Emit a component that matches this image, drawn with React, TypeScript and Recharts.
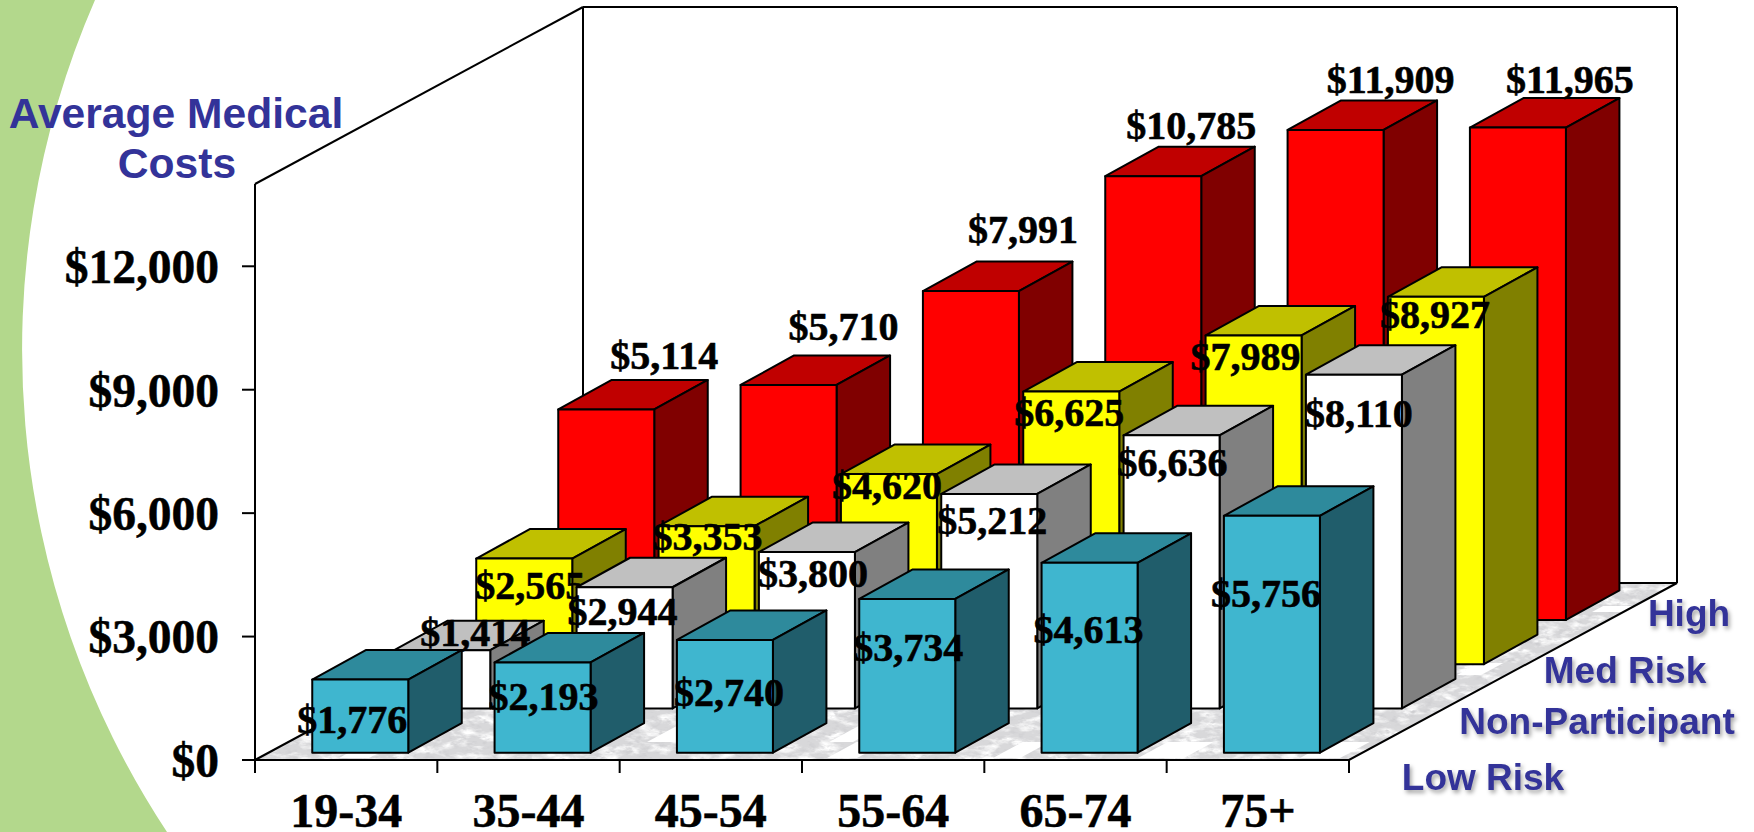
import { BarChart, Bar, XAxis, YAxis } from "recharts";

const WIDTH = 1754;
const HEIGHT = 832;

const AGE_GROUPS = ["19-34", "35-44", "45-54", "55-64", "65-74", "75+"];
const COST_TICKS = [0, 3000, 6000, 9000, 12000];

const LOW_RISK = [1776, 2193, 2740, 3734, 4613, 5756];
const NON_PARTICIPANT = [1414, 2944, 3800, 5212, 6636, 8110];
const MED_RISK = [2565, 3353, 4620, 6625, 7989, 8927];
const HIGH_RISK = [5114, 5710, 7991, 10785, 11909, 11965];

// value labels are hand placed per bar, relative to the top of the front face
const LOW_NUDGE = [[-8, 40], [1, 35], [4, 53], [1, 49], [-1, 67], [-6, 78]];
const NON_NUDGE = [[33, -17], [-2, 25], [6, 22], [3, 27], [1, 28], [5, 39]];
const MED_NUDGE = [[6, 27], [1, 11], [-2, 12], [-2, 21], [-8, 22], [-1, 18]];
const HIGH_NUDGE = [[58, -53], [55, -58], [52, -61], [38, -50], [55, -50], [52, -48]];

// white gaps in the floor texture: left edge at the lower side, top, bottom, width
const FLOOR_GAPS = [
  [339, 752, 758, 30],
  [647, 712, 742, 30],
  [829, 712, 742, 24],
  [827, 742, 758, 30],
  [993, 742, 758, 27],
  [1138, 742, 758, 46],
  [1300, 742, 758, 40],
  [1457, 663, 675, 24],
  [1592, 606, 612, 30],
];

const chartData = AGE_GROUPS.map((age, i) => ({
  age,
  low: LOW_RISK[i],
  non: NON_PARTICIPANT[i],
  med: MED_RISK[i],
  high: HIGH_RISK[i],
}));

// plot frame and the oblique projection used for the fake 3D
const LEFT = 255;
const RIGHT = 1349;
const TOP = 184;
const BASE = 760;
const DEPTH_X = 328;
const DEPTH_Y = 177;
const SLOT_X = DEPTH_X / 4;
const SLOT_Y = DEPTH_Y / 4;
const BOX_X = 53.5;
const BOX_Y = 29.5;
const BAR_WIDTH = 96;
const INSET_X = (SLOT_X - BOX_X) / 2;
const INSET_Y = (SLOT_Y - BOX_Y) / 2;

const SERIF = "'Liberation Serif', 'Times New Roman', serif";
const SANS = "'Liberation Sans', Arial, sans-serif";
const BLUE = "#333399";

const usd = (v: number) => `$${v.toLocaleString("en-US")}`;

const Box3D = (colors: string[], slot: number, nudge: number[][]) => (props: any) => {
  const { x, y, width, height, index, value } = props;
  const dx = INSET_X + slot * SLOT_X;
  const dy = INSET_Y + slot * SLOT_Y;
  const l = x + dx;
  const r = l + width;
  const t = y - dy;
  const b = t + height;
  const [nx, ny] = nudge[index];
  const v = Array.isArray(value) ? value[1] : value;
  return (
    <g stroke="#000" strokeWidth={2} strokeLinejoin="round">
      <polygon points={`${l},${t} ${r},${t} ${r + BOX_X},${t - BOX_Y} ${l + BOX_X},${t - BOX_Y}`} fill={colors[1]} />
      <polygon points={`${r},${t} ${r + BOX_X},${t - BOX_Y} ${r + BOX_X},${b - BOX_Y} ${r},${b}`} fill={colors[2]} />
      <rect x={l} y={t} width={width} height={height} fill={colors[0]} />
      <text
        x={l + width / 2 + nx}
        y={t + ny + 13}
        textAnchor="middle"
        stroke="#000"
        strokeWidth={0.6}
        fill="#000"
        fontFamily={SERIF}
        fontWeight="bold"
        fontSize={40}
      >
        {usd(v)}
      </text>
    </g>
  );
};

const AgeTick = (props: any) => {
  const { x, payload, index } = props;
  const half = (RIGHT - LEFT) / AGE_GROUPS.length / 2;
  return (
    <g>
      <line x1={x - half} x2={x - half} y1={BASE} y2={BASE + 13} stroke="#000" strokeWidth={2} />
      {index === AGE_GROUPS.length - 1 && (
        <line x1={x + half} x2={x + half} y1={BASE} y2={BASE + 13} stroke="#000" strokeWidth={2} />
      )}
      <text
        x={x}
        y={827}
        textAnchor="middle"
        fontFamily={SERIF}
        fontWeight="bold"
        fontSize={48}
        fill="#000"
        stroke="#000"
        strokeWidth={0.5}
      >
        {payload.value}
      </text>
    </g>
  );
};

const Backdrop = () => {
  const skew = DEPTH_X / DEPTH_Y;
  const floor = `${LEFT},${BASE} ${RIGHT},${BASE} ${RIGHT + DEPTH_X},${BASE - DEPTH_Y} ${LEFT + DEPTH_X},${BASE - DEPTH_Y}`;
  const legend = { fontFamily: SANS, fontWeight: "bold", fill: BLUE, style: { filter: "drop-shadow(2px 3px 2px rgba(0,0,0,0.35))" } };
  return (
    <svg width={WIDTH} height={HEIGHT} style={{ position: "absolute", left: 0, top: 0 }}>
      <defs>
        <clipPath id="floorClip">
          <polygon points={floor} />
        </clipPath>
        <filter id="veins" x="0" y="0" width="100%" height="100%">
          <feTurbulence type="fractalNoise" baseFrequency="0.05 0.13" numOctaves={4} seed={7} />
          <feColorMatrix type="matrix" values="0 0 0 0 1  0 0 0 0 1  0 0 0 0 1  3.2 0 0 0 -1.45" />
        </filter>
        <filter id="speckle" x="0" y="0" width="100%" height="100%">
          <feTurbulence type="fractalNoise" baseFrequency="0.12 0.22" numOctaves={3} seed={21} />
          <feColorMatrix type="matrix" values="0 0 0 0 0.62  0 0 0 0 0.62  0 0 0 0 0.64  3 0 0 0 -1.55" />
        </filter>
      </defs>

      <path d={`M0 0 L95 0 A875 875 0 0 0 167 ${HEIGHT} L0 ${HEIGHT} Z`} fill="#b3d88c" />

      <polygon
        points={`${LEFT},${BASE} ${LEFT},${TOP} ${LEFT + DEPTH_X},${TOP - DEPTH_Y} ${RIGHT + DEPTH_X},${TOP - DEPTH_Y} ${RIGHT + DEPTH_X},${BASE - DEPTH_Y} ${LEFT + DEPTH_X},${BASE - DEPTH_Y}`}
        fill="#fff"
      />
      <g clipPath="url(#floorClip)">
        <rect x={LEFT} y={BASE - DEPTH_Y} width={RIGHT - LEFT + DEPTH_X} height={DEPTH_Y} fill="#d8d8da" />
        <rect x={LEFT} y={BASE - DEPTH_Y} width={RIGHT - LEFT + DEPTH_X} height={DEPTH_Y} filter="url(#veins)" />
        <rect x={LEFT} y={BASE - DEPTH_Y} width={RIGHT - LEFT + DEPTH_X} height={DEPTH_Y} filter="url(#speckle)" />
        {FLOOR_GAPS.map(([x, top, bottom, w], i) => {
          const shift = (bottom - top) * skew;
          return (
            <polygon
              key={i}
              points={`${x},${bottom} ${x + w},${bottom} ${x + w + shift},${top} ${x + shift},${top}`}
              fill="#fff"
            />
          );
        })}
      </g>
      <g stroke="#000" strokeWidth={2} fill="none">
        <polygon points={floor} />
        <line x1={LEFT} y1={TOP} x2={LEFT + DEPTH_X} y2={TOP - DEPTH_Y} />
        <line x1={LEFT + DEPTH_X} y1={TOP - DEPTH_Y} x2={RIGHT + DEPTH_X} y2={TOP - DEPTH_Y} />
        <line x1={LEFT + DEPTH_X} y1={TOP - DEPTH_Y} x2={LEFT + DEPTH_X} y2={BASE - DEPTH_Y} />
        <line x1={RIGHT + DEPTH_X} y1={TOP - DEPTH_Y} x2={RIGHT + DEPTH_X} y2={BASE - DEPTH_Y} />
      </g>

      <text x={176} y={128} textAnchor="middle" fontFamily={SANS} fontWeight="bold" fontSize={42.6} fill={BLUE}>
        Average Medical
      </text>
      <text x={177} y={178} textAnchor="middle" fontFamily={SANS} fontWeight="bold" fontSize={42.6} fill={BLUE}>
        Costs
      </text>

      <text x={1689} y={626} textAnchor="middle" fontSize={37} {...legend}>High</text>
      <text x={1625} y={683} textAnchor="middle" fontSize={37} {...legend}>Med Risk</text>
      <text x={1597} y={734} textAnchor="middle" fontSize={37} {...legend}>Non-Participant</text>
      <text x={1483} y={790} textAnchor="middle" fontSize={37} {...legend}>Low Risk</text>
    </svg>
  );
};

export default function App() {
  return (
    <div style={{ position: "absolute", left: 0, top: 0, width: WIDTH, height: HEIGHT, background: "#fff", overflow: "hidden" }}>
      <Backdrop />
      <div style={{ position: "absolute", left: 0, top: 0 }}>
        <BarChart
          width={WIDTH}
          height={HEIGHT}
          data={chartData}
          margin={{ top: TOP, right: WIDTH - RIGHT, bottom: 0, left: 0 }}
          barSize={BAR_WIDTH}
          barGap={-BAR_WIDTH}
        >
          <XAxis
            dataKey="age"
            height={HEIGHT - BASE}
            axisLine={{ stroke: "#000", strokeWidth: 2 }}
            tickLine={false}
            tick={<AgeTick />}
            interval={0}
          />
          <YAxis
            domain={[0, 14000]}
            ticks={COST_TICKS}
            width={LEFT}
            axisLine={{ stroke: "#000", strokeWidth: 2 }}
            tickLine={{ stroke: "#000", strokeWidth: 2 }}
            tickSize={13}
            tickMargin={23}
            tickFormatter={usd}
            tick={{ fontFamily: SERIF, fontWeight: "bold", fontSize: 47.5, fill: "#000", stroke: "#000", strokeWidth: 0.5 }}
          />
          <Bar dataKey="high" isAnimationActive={false} shape={Box3D(["#ff0000", "#c00000", "#800000"], 3, HIGH_NUDGE)} />
          <Bar dataKey="med" isAnimationActive={false} shape={Box3D(["#ffff00", "#c0c000", "#808000"], 2, MED_NUDGE)} />
          <Bar dataKey="non" isAnimationActive={false} shape={Box3D(["#ffffff", "#c0c0c0", "#808080"], 1, NON_NUDGE)} />
          <Bar dataKey="low" isAnimationActive={false} shape={Box3D(["#3fb6cf", "#2e8a9c", "#205d6b"], 0, LOW_NUDGE)} />
        </BarChart>
      </div>
    </div>
  );
}
